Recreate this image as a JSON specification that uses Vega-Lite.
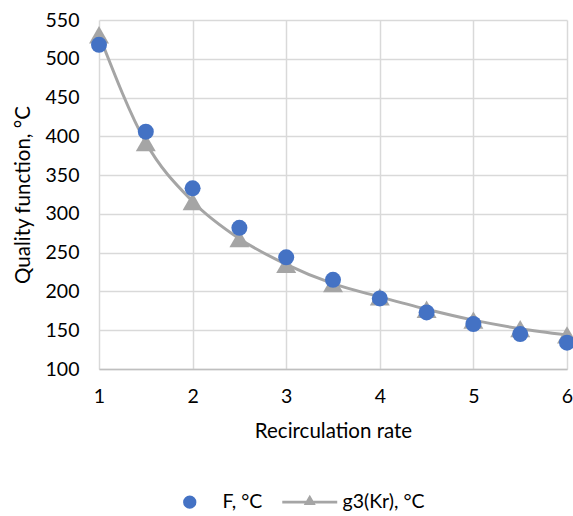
{
  "$schema": "https://vega.github.io/schema/vega-lite/v6.json",
  "width": 468,
  "height": 349,
  "autosize": "none",
  "padding": {"left": 99, "top": 20, "right": 6, "bottom": 147},
  "background": "white",
  "config": {
    "view": {"stroke": null},
    "font": "Lato",
    "axis": {
      "labelFont": "Lato",
      "titleFont": "Lato",
      "labelFontSize": 19.5,
      "titleFontSize": 20.5,
      "titleFontWeight": "normal",
      "labelColor": "#000000",
      "titleColor": "#000000",
      "gridColor": "#D9D9D9",
      "gridWidth": 1.5,
      "ticks": false,
      "tickSize": 0
    }
  },
  "data": {
    "values": [
      {"rate": 1, "series": "F, °C", "value": 518},
      {"rate": 1.5, "series": "F, °C", "value": 406},
      {"rate": 2, "series": "F, °C", "value": 333},
      {"rate": 2.5, "series": "F, °C", "value": 282},
      {"rate": 3, "series": "F, °C", "value": 244},
      {"rate": 3.5, "series": "F, °C", "value": 215},
      {"rate": 4, "series": "F, °C", "value": 191},
      {"rate": 4.5, "series": "F, °C", "value": 173},
      {"rate": 5, "series": "F, °C", "value": 158},
      {"rate": 5.5, "series": "F, °C", "value": 145},
      {"rate": 6, "series": "F, °C", "value": 134},
      {"rate": 1, "series": "g3(Kr), °C", "value": 531},
      {"rate": 1.5, "series": "g3(Kr), °C", "value": 392},
      {"rate": 2, "series": "g3(Kr), °C", "value": 316},
      {"rate": 2.5, "series": "g3(Kr), °C", "value": 268},
      {"rate": 3, "series": "g3(Kr), °C", "value": 235},
      {"rate": 3.5, "series": "g3(Kr), °C", "value": 210},
      {"rate": 4, "series": "g3(Kr), °C", "value": 193},
      {"rate": 4.5, "series": "g3(Kr), °C", "value": 177},
      {"rate": 5, "series": "g3(Kr), °C", "value": 163},
      {"rate": 5.5, "series": "g3(Kr), °C", "value": 152},
      {"rate": 6, "series": "g3(Kr), °C", "value": 144}
    ]
  },
  "encoding": {
    "x": {
      "field": "rate",
      "type": "quantitative",
      "scale": {"domain": [1, 6], "nice": false, "zero": false},
      "axis": {
        "values": [1, 2, 3, 4, 5, 6],
        "title": "Recirculation rate",
        "grid": true,
        "domainColor": "#BFBFBF",
        "domainWidth": 1.5,
        "labelPadding": 18,
        "titlePadding": 16,
        "labelFlush": false
      }
    },
    "y": {
      "field": "value",
      "type": "quantitative",
      "scale": {"domain": [100, 550], "nice": false, "zero": false},
      "axis": {
        "values": [100, 150, 200, 250, 300, 350, 400, 450, 500, 550],
        "title": "Quality function, °C",
        "grid": true,
        "domain": false,
        "labelPadding": 20,
        "titlePadding": 12
      }
    }
  },
  "layer": [
    {
      "transform": [{"filter": "datum.series == 'g3(Kr), °C'"}],
      "mark": {"type": "line", "interpolate": "monotone", "color": "#A5A5A5", "strokeWidth": 3}
    },
    {
      "transform": [{"filter": "datum.series == 'g3(Kr), °C'"}],
      "mark": {"type": "point", "shape": "triangle-up", "filled": true, "size": 400, "opacity": 1},
      "encoding": {
        "color": {
          "field": "series",
          "type": "nominal",
          "scale": {"domain": ["F, °C", "g3(Kr), °C"], "range": ["#4472C4", "#A5A5A5"]},
          "legend": {
            "title": null,
            "orient": "none",
            "legendX": 81,
            "legendY": 472,
            "direction": "horizontal",
            "padding": 0,
            "symbolSize": 177,
            "symbolStrokeWidth": 0,
            "symbolOpacity": 1,
            "labelOffset": 23,
            "columnPadding": 19,
            "labelFont": "Lato",
            "labelFontSize": 19.5,
            "labelColor": "#000000",
            "encode": {
              "symbols": {
                "update": {
                  "shape": {"signal": "datum.value === 'g3(Kr), °C' ? 'M-4.13,-0.22H4.13V0.22H-4.13Z M-0.9,0.45L0,-1.1L0.9,0.45Z' : 'circle'"}
                }
              }
            }
          }
        }
      }
    },
    {
      "transform": [{"filter": "datum.series == 'F, °C'"}],
      "mark": {"type": "point", "shape": "circle", "filled": true, "size": 256, "opacity": 1},
      "encoding": {
        "color": {"field": "series", "type": "nominal"}
      }
    }
  ]
}
